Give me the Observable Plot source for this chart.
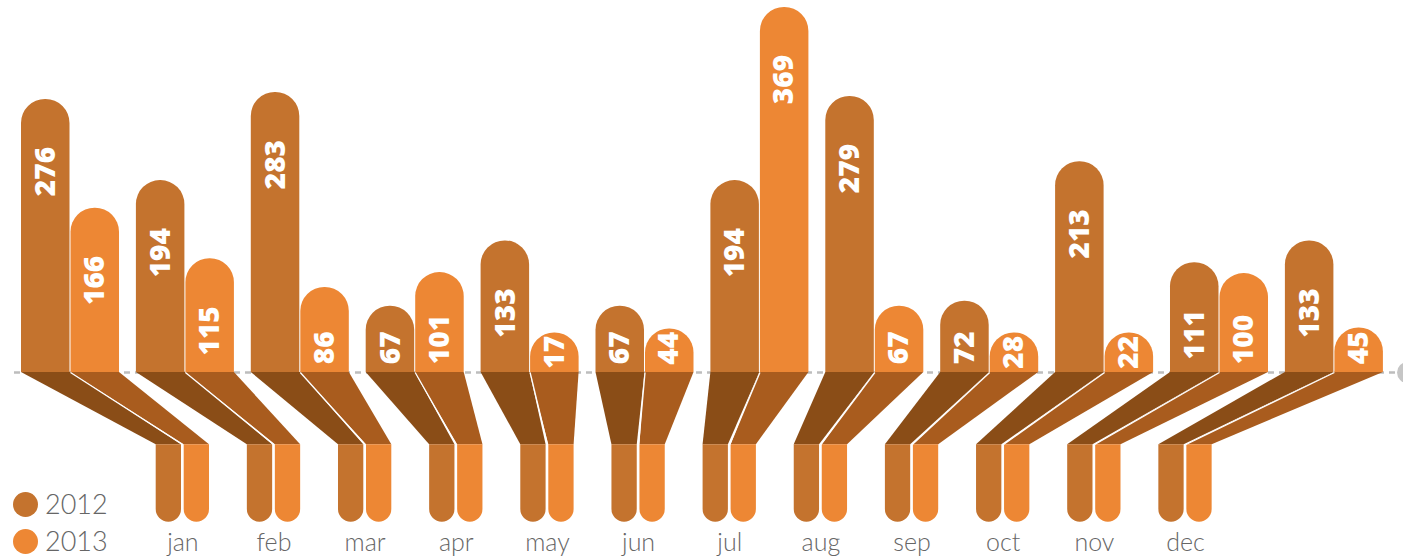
<!DOCTYPE html>
<html><head><meta charset="utf-8">
<script src="https://cdn.jsdelivr.net/npm/d3@7"></script>
<script src="https://cdn.jsdelivr.net/npm/@observablehq/plot@0.6"></script>
<style>
body{margin:0;background:#fff;}
#wrap{position:relative;width:1403px;height:558px;overflow:hidden;}
.legend{position:absolute;left:13px;font-family:Lato,"Open Sans",sans-serif;font-weight:300;font-size:27px;color:#666;display:flex;align-items:center;height:26px;line-height:26px;}
.legend .sw{width:25px;height:25px;border-radius:50%;margin-right:7px;flex:none;}
</style></head><body><div id="wrap"></div>
<script>
// ---- data ----
const months = ["jan","feb","mar","apr","may","jun","jul","aug","sep","oct","nov","dec"];
const years = ["2012","2013"];
const values2012 = [276,194,283,67,133,67,194,279,72,213,111,133];
const values2013 = [166,115,86,101,17,44,369,67,28,22,100,45];

// ---- styles ----
const barColors = {"2012":"#C4732E","2013":"#ED8734"};
const neckColors = {"2012":"#8A4D17","2013":"#A95C1E"};

// ---- layout (month units on x, value units on y) ----
const W = 1403, H = 558;
const Y_DOMAIN = [-188, 376];
const K = H / (Y_DOMAIN[1] - Y_DOMAIN[0]);       // px per value unit
const X_DOMAIN = [-0.18277, 12.0279];
const TOP_W = 0.4265;
const BOT_START = 1.1723, BOT_PITCH = 0.7933, BOT_W = 0.2202, BOT_GAP = 0.2437;
const NECK = -73, FOOT = -151.3, LABEL_Y = -180;
const MIN_SHOWN = 40;
const FONT = 28;

const rows = months.flatMap((m, i) => years.map((yr, j) => {
  const v = (j ? values2013 : values2012)[i];
  const x1 = i + j * TOP_W, x2 = x1 + TOP_W;
  const bx1 = BOT_START + i * BOT_PITCH + j * BOT_GAP, bx2 = bx1 + BOT_W;
  const shown = Math.max(v, MIN_SHOWN);
  const len = String(v).length * FONT * 0.59 / K;
  const labelY = Math.max(shown - 47.5 / K, Math.min(len + 8 / K, shown - 3 / K));
  return {month: m, year: yr, v, x1, x2, bx1, bx2, shown, labelY, id: m + yr};
}));
const neckPts = rows.flatMap(r => [
  {id: r.id, year: r.year, y: 0, x1: r.x1, x2: r.x2},
  {id: r.id, year: r.year, y: NECK, x1: r.bx1, x2: r.bx2}
]);
const byYear = (arr, yr) => arr.filter(d => d.year === yr);

const marks = [
  Plot.ruleY([0], {x1: -0.061, x2: 11.976, stroke: "#bdbdbd", strokeWidth: 2.5, strokeDasharray: "6,5"}),
  Plot.dot([0], {x: 12.063, y: 0, r: 10.5, fill: "#c6c6c6"})
];
for (const yr of years) {
  marks.push(
    Plot.rectY(byYear(rows, yr), {x1: "x1", x2: "x2", y1: 0, y2: "shown", fill: barColors[yr],
      insetLeft: yr === "2013" ? 0.5 : 0, insetRight: yr === "2012" ? 0.5 : 0, ry2: 24}),
    Plot.areaX(byYear(neckPts, yr), {y: "y", x1: "x1", x2: "x2", z: "id", fill: neckColors[yr], curve: "linear"}),
    Plot.rectY(byYear(rows, yr), {x1: "bx1", x2: "bx2", y1: NECK, y2: FOOT, fill: barColors[yr], ry2: 12.6})
  );
}
marks.push(
  Plot.link(byYear(rows, "2012"), {x1: "x2", y1: 0, x2: d => d.bx2 + (BOT_GAP - BOT_W) / 2, y2: NECK, stroke: "white", strokeWidth: 1.3}),
  Plot.text(rows, {x: d => (d.x1 + d.x2) / 2, y: "labelY", text: d => String(d.v), rotate: -90, textAnchor: "end",
    fill: "white", fontSize: FONT, fontWeight: 800, fontFamily: "'Open Sans', sans-serif"}),
  Plot.text(months, {x: (d, i) => BOT_START + i * BOT_PITCH + (BOT_GAP + BOT_W) / 2, y: LABEL_Y, text: d => d,
    lineAnchor: "bottom", fontSize: 25, fill: "#666", fontWeight: 300, fontFamily: "Lato, 'Open Sans', sans-serif"})
);

const chart = Plot.plot({
  width: W, height: H, margin: 0,
  x: {type: "linear", domain: X_DOMAIN, axis: null},
  y: {type: "linear", domain: Y_DOMAIN, axis: null},
  marks
});
const wrap = document.getElementById("wrap");
wrap.appendChild(chart);

// legend
const legendTops = [491, 528];
years.forEach((yr, i) => {
  const el = document.createElement("div");
  el.className = "legend";
  el.style.top = legendTops[i] + "px";
  el.innerHTML = `<span class="sw" style="background:${barColors[yr]}"></span><span>${yr}</span>`;
  wrap.appendChild(el);
});
</script></body></html>
